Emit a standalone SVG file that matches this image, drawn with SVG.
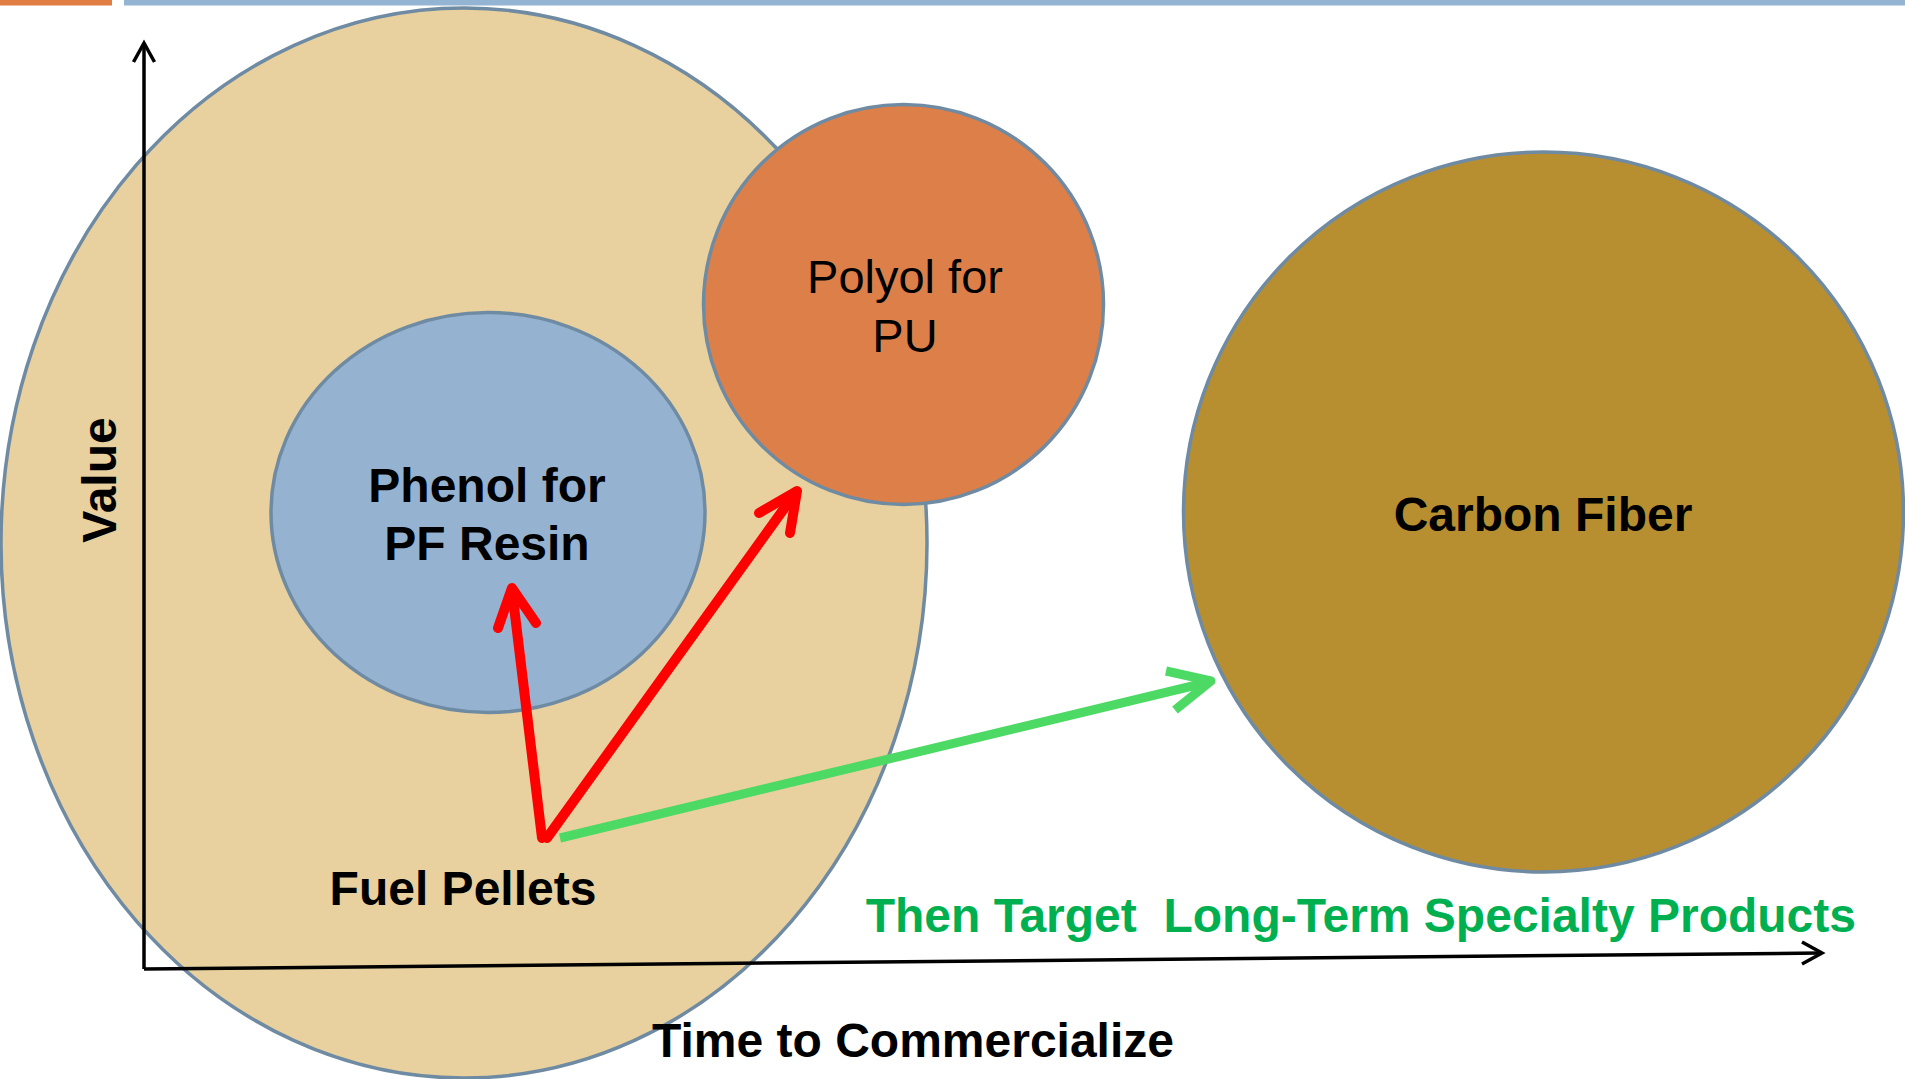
<svg xmlns="http://www.w3.org/2000/svg" width="1905" height="1079" viewBox="0 0 1905 1079">
<style>
.shape{stroke:#6F8BA3;stroke-width:3.5}
.b{font-family:"Liberation Sans",Arial,sans-serif;font-weight:bold;font-size:48px;fill:#000;text-anchor:middle}
.r{font-family:"Liberation Sans",Arial,sans-serif;font-size:47px;fill:#000;text-anchor:middle}
.axis{stroke:#000;stroke-width:3.5;fill:none}
.red{stroke:#FF0000;stroke-width:10;fill:none;stroke-linecap:round;stroke-linejoin:round}
.green{stroke:#4CD964;stroke-width:9;fill:none;stroke-linejoin:round}
</style>
<rect width="1905" height="1079" fill="#FFFFFF"/>
<g id="topbars">
<rect x="0" y="0" width="112" height="5.5" fill="#E07D45"/>
<rect x="124" y="0" width="1781" height="5.5" fill="#93B4D2"/>
</g>
<g id="fuel-pellets">
<ellipse class="shape" cx="464" cy="543" rx="463" ry="535" fill="#E8D19E"/>
</g>
<g id="axes">
<path class="axis" d="M144,969 L144,44"/>
<path class="axis" d="M133.5,62 L144,43 L154.5,62"/>
<path class="axis" d="M144,969 L1821,953"/>
<path class="axis" d="M1802,942 L1822,953 L1802,964"/>
<text class="b" transform="translate(116,480) rotate(-90)">Value</text>
<text class="b" x="913" y="1057">Time to Commercialize</text>
</g>
<g id="fuel-pellets-label">
<text class="b" x="463" y="905">Fuel Pellets</text>
</g>
<g id="phenol">
<ellipse class="shape" cx="488" cy="512.5" rx="217" ry="200" fill="#95B3D1"/>
<text class="b" x="487" y="502">Phenol for</text>
<text class="b" x="487" y="560">PF Resin</text>
</g>
<g id="polyol">
<circle class="shape" cx="903.5" cy="304.5" r="200" fill="#DC7F48"/>
<text class="r" x="905" y="293">Polyol for</text>
<text class="r" x="905" y="352">PU</text>
</g>
<g id="carbon-fiber">
<circle class="shape" cx="1543.5" cy="512" r="360" fill="#B88F30"/>
<text class="b" x="1543" y="531">Carbon Fiber</text>
</g>
<g id="connectors">
<path class="red" d="M542,838 L512,590"/>
<path class="red" d="M498,628 L512,588 L536,623"/>
<path class="red" d="M547,838 L796,492"/>
<path class="red" d="M759,513 L797,491 L790,533"/>
<path class="green" d="M560,838 L1209,682"/>
<path class="green" d="M1166,671 L1211,681 L1175,710"/>
</g>
<g id="note">
<text class="b" x="1856" y="932" xml:space="preserve" style="fill:#00B050;text-anchor:end;white-space:pre">Then Target  Long-Term Specialty Products</text>
</g>
</svg>
